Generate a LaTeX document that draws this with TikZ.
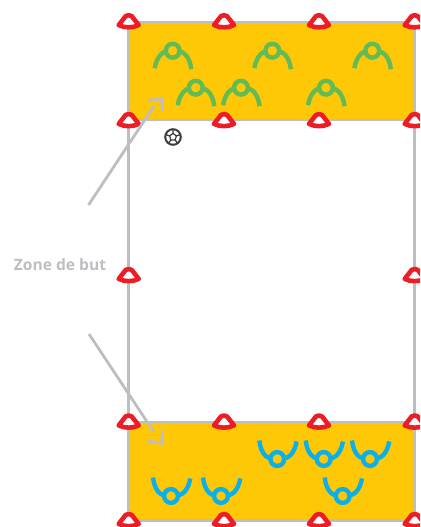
\documentclass[tikz,border=0pt]{standalone}
\usepackage{fontspec}
\setmainfont{Open Sans}
\definecolor{zonefill}{HTML}{FFC807}
\definecolor{linegray}{HTML}{BDBEC2}
\definecolor{conered}{HTML}{EE1C25}
\definecolor{playgreen}{HTML}{62BB55}
\definecolor{playblue}{HTML}{0BB0E8}
\definecolor{balldark}{HTML}{3C3C3E}
\tikzset{
  x=1pt,y=-1pt,
  zonebox/.style={fill=zonefill,draw=linegray,line width=2.9pt},
  edgeline/.style={draw=linegray,line width=2.9pt},
  pointer/.style={draw=linegray,line width=2.8pt},
  conepic/.pic={
    \draw[conered,fill=white,line width=4.6pt,line join=round]
      (-3,-5.6) .. controls (-1.5,-6.8) and (1.5,-6.8) .. (3,-5.6)
      -- (10,3.4) .. controls (4,6.4) and (-4,6.4) .. (-10,3.4) -- cycle;
  },
  greenpic/.pic={
    \draw[playgreen,line width=4.4pt] (-18,17.5) .. controls (-16,6) and (-10,0.5) .. (-5,0.5);
    \draw[playgreen,line width=4.4pt] (18.6,18.5) .. controls (17,6) and (11,0.5) .. (5,0.5);
    \draw[playgreen,line width=4.4pt] (0,0) circle (6.9);
  },
  bluepic/.pic={
    \draw[playblue,line width=4.4pt] (-18,-18.5) .. controls (-16.5,-6) and (-11,-0.5) .. (-5,-0.5);
    \draw[playblue,line width=4.4pt] (19.3,-17.5) .. controls (17,-5) and (11,-0.5) .. (5,-0.5);
    \draw[playblue,line width=4.4pt] (0,0) circle (6.9);
  }
}
\begin{document}
\begin{tikzpicture}
\useasboundingbox (0,0) rectangle (420,527);
\clip (0,0) rectangle (420,527);
\draw[edgeline] (128.8,22) -- (128.8,521);
\draw[edgeline] (414.8,22) -- (414.8,521);
\path[zonebox] (128.8,22) rectangle (414.8,120);
\path[zonebox] (128.8,422) rectangle (414.8,520.7);
% players
\foreach \px/\py in {172.7/50.7,272.3/50.7,372.3/50.7,195.7/87.7,241/87.7,326/87.7}
  \pic at (\px,\py) {greenpic};
\foreach \px/\py in {171/496,221/496,342.7/496,277.3/459,323.7/459,370/459}
  \pic at (\px,\py) {bluepic};
% cones
\foreach \cy in {21.7,120.5,422,520.5}
  \foreach \cx in {128.7,224,319,414.7}
    \pic at (\cx,\cy) {conepic};
\pic at (128.7,275.5) {conepic};
\pic at (414.7,275.5) {conepic};
% ball
\draw[balldark,fill=white,line width=2pt] (173,137) circle (7.8);
\draw[balldark,fill=white,line width=1.2pt,line join=round] (173,133.4) -- (176.4,135.9) -- (175.1,139.9) -- (170.9,139.9) -- (169.6,135.9) -- cycle;
\draw[balldark,line width=1.3pt] (173,133.4) -- (173,129.5)
  (176.4,135.9) -- (180.2,134.6)
  (175.1,139.9) -- (177.5,143.2)
  (170.9,139.9) -- (168.5,143.2)
  (169.6,135.9) -- (165.8,134.6);
% label and pointers
\node[text=linegray,font=\bfseries\fontsize{15.6pt}{18pt}\selectfont,inner sep=0pt] (lab) at (60,265) {Zone de but};
\coordinate (ta) at (88.5,205);
\coordinate (tb) at (154,106);
\coordinate (ba) at (89,334);
\coordinate (bb) at (153.5,431.5);
\draw[pointer] (ta) -- (tb);
\draw[pointer] (ba) -- (bb);
\coordinate (t1) at (147.3,100.8);
\coordinate (t2) at (161.5,98.6);
\coordinate (t3) at (162.5,111.7);
\coordinate (b1) at (147.7,441);
\coordinate (b2) at (161.5,443.2);
\coordinate (b3) at (162.7,430);
\draw[pointer] (t1) -- (t2) -- (t3);
\draw[pointer] (b1) -- (b2) -- (b3);
\end{tikzpicture}
\end{document}
